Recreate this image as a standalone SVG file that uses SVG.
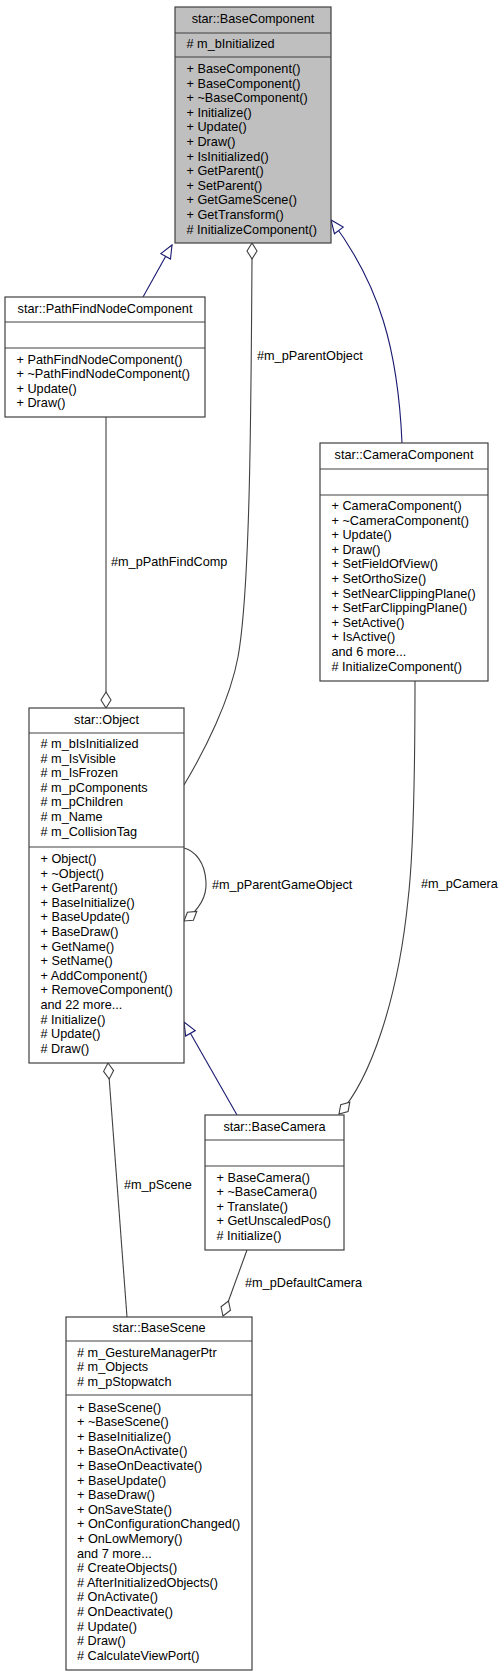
<svg xmlns="http://www.w3.org/2000/svg" width="504" height="1677" viewBox="0 0 504 1677">
<style>
text{font-family:"Liberation Sans",Arial,Helvetica,sans-serif;font-size:12.7px;fill:#000}
.ttl{text-anchor:middle}
.box{fill:#fff;stroke:#404040;stroke-width:1.2}
.main{fill:#bfbfbf;stroke:#404040;stroke-width:1.2}
.sep{stroke:#404040;stroke-width:1.2}
.inh{fill:none;stroke:#191970;stroke-width:1.1}
.agg{fill:none;stroke:#404040;stroke-width:1.1}
</style>
<defs>
<marker id="tri" markerUnits="userSpaceOnUse" orient="auto" refX="0" refY="0" markerWidth="30" markerHeight="30" overflow="visible">
<path d="M0,0 L-13,-5.5 L-13,5.5 Z" fill="#fff" stroke="#191970" stroke-width="1.1"/>
</marker>
<marker id="dia" markerUnits="userSpaceOnUse" orient="auto" refX="0" refY="0" markerWidth="30" markerHeight="30" overflow="visible">
<path d="M0,0 L8,-5 L16,0 L8,5 Z" fill="#fff" stroke="#404040" stroke-width="1.1"/>
</marker>
</defs>
<g id="connectors">
<path class="inh" d="M143,297 L172,245" marker-end="url(#tri)"/>
<path class="agg" d="M252,243 L252,259 C251,420 250,590 238,657 C230,700 205,750 184,785" marker-start="url(#dia)"/>
<path class="inh" d="M402,443 C398,350 380,285 331,220" marker-end="url(#tri)"/>
<path class="agg" d="M106,708 L106,417" marker-start="url(#dia)"/>
<path class="agg" d="M184,921 C200,909 207,897 206,882 C205,862 195,851 184,848" marker-start="url(#dia)"/>
<path class="agg" d="M339,1114 C370,1080 398,1000 408,900 C414,850 415,760 415,681" marker-start="url(#dia)"/>
<path class="inh" d="M237,1115 L184,1022" marker-end="url(#tri)"/>
<path class="agg" d="M223,1316 L247,1250" marker-start="url(#dia)"/>
<path class="agg" d="M108,1063 L127,1317" marker-start="url(#dia)"/>
<text x="257" y="360">#m_pParentObject</text>
<text x="111" y="566">#m_pPathFindComp</text>
<text x="212" y="889">#m_pParentGameObject</text>
<text x="421" y="888">#m_pCamera</text>
<text x="124" y="1189">#m_pScene</text>
<text x="245" y="1287">#m_pDefaultCamera</text>
</g>
<g id="BaseComponent">
<rect class="main" x="175" y="7" width="156" height="236"/>
<text class="ttl" x="253" y="22.5">star::BaseComponent</text>
<line class="sep" x1="175" y1="33" x2="331" y2="33"/>
<text x="186.5" y="47.5"># m_bInitialized</text>
<line class="sep" x1="175" y1="57" x2="331" y2="57"/>
<text x="186.5" y="73"><tspan x="186.5">+ BaseComponent()</tspan><tspan x="186.5" dy="14.6">+ BaseComponent()</tspan><tspan x="186.5" dy="14.6">+ ~BaseComponent()</tspan><tspan x="186.5" dy="14.6">+ Initialize()</tspan><tspan x="186.5" dy="14.6">+ Update()</tspan><tspan x="186.5" dy="14.6">+ Draw()</tspan><tspan x="186.5" dy="14.6">+ IsInitialized()</tspan><tspan x="186.5" dy="14.6">+ GetParent()</tspan><tspan x="186.5" dy="14.6">+ SetParent()</tspan><tspan x="186.5" dy="14.6">+ GetGameScene()</tspan><tspan x="186.5" dy="14.6">+ GetTransform()</tspan><tspan x="186.5" dy="14.6"># InitializeComponent()</tspan></text>
</g>
<g id="PathFindNodeComponent">
<rect class="box" x="5" y="297" width="200" height="120"/>
<text class="ttl" x="105" y="312.5">star::PathFindNodeComponent</text>
<line class="sep" x1="5" y1="322" x2="205" y2="322"/>
<line class="sep" x1="5" y1="348" x2="205" y2="348"/>
<text x="16.5" y="363.5"><tspan x="16.5">+ PathFindNodeComponent()</tspan><tspan x="16.5" dy="14.6">+ ~PathFindNodeComponent()</tspan><tspan x="16.5" dy="14.6">+ Update()</tspan><tspan x="16.5" dy="14.6">+ Draw()</tspan></text>
</g>
<g id="CameraComponent">
<rect class="box" x="320" y="443" width="168" height="238"/>
<text class="ttl" x="404" y="459">star::CameraComponent</text>
<line class="sep" x1="320" y1="469" x2="488" y2="469"/>
<line class="sep" x1="320" y1="495" x2="488" y2="495"/>
<text x="331.5" y="510"><tspan x="331.5">+ CameraComponent()</tspan><tspan x="331.5" dy="14.6">+ ~CameraComponent()</tspan><tspan x="331.5" dy="14.6">+ Update()</tspan><tspan x="331.5" dy="14.6">+ Draw()</tspan><tspan x="331.5" dy="14.6">+ SetFieldOfView()</tspan><tspan x="331.5" dy="14.6">+ SetOrthoSize()</tspan><tspan x="331.5" dy="14.6">+ SetNearClippingPlane()</tspan><tspan x="331.5" dy="14.6">+ SetFarClippingPlane()</tspan><tspan x="331.5" dy="14.6">+ SetActive()</tspan><tspan x="331.5" dy="14.6">+ IsActive()</tspan><tspan x="331.5" dy="14.6">and 6 more...</tspan><tspan x="331.5" dy="14.6"># InitializeComponent()</tspan></text>
</g>
<g id="Object">
<rect class="box" x="29" y="708" width="155" height="355"/>
<text class="ttl" x="106.5" y="723.5">star::Object</text>
<line class="sep" x1="29" y1="733" x2="184" y2="733"/>
<text x="40.5" y="748"><tspan x="40.5"># m_bIsInitialized</tspan><tspan x="40.5" dy="14.6"># m_IsVisible</tspan><tspan x="40.5" dy="14.6"># m_IsFrozen</tspan><tspan x="40.5" dy="14.6"># m_pComponents</tspan><tspan x="40.5" dy="14.6"># m_pChildren</tspan><tspan x="40.5" dy="14.6"># m_Name</tspan><tspan x="40.5" dy="14.6"># m_CollisionTag</tspan></text>
<line class="sep" x1="29" y1="847" x2="184" y2="847"/>
<text x="40.5" y="863"><tspan x="40.5">+ Object()</tspan><tspan x="40.5" dy="14.6">+ ~Object()</tspan><tspan x="40.5" dy="14.6">+ GetParent()</tspan><tspan x="40.5" dy="14.6">+ BaseInitialize()</tspan><tspan x="40.5" dy="14.6">+ BaseUpdate()</tspan><tspan x="40.5" dy="14.6">+ BaseDraw()</tspan><tspan x="40.5" dy="14.6">+ GetName()</tspan><tspan x="40.5" dy="14.6">+ SetName()</tspan><tspan x="40.5" dy="14.6">+ AddComponent()</tspan><tspan x="40.5" dy="14.6">+ RemoveComponent()</tspan><tspan x="40.5" dy="14.6">and 22 more...</tspan><tspan x="40.5" dy="14.6"># Initialize()</tspan><tspan x="40.5" dy="14.6"># Update()</tspan><tspan x="40.5" dy="14.6"># Draw()</tspan></text>
</g>
<g id="BaseCamera">
<rect class="box" x="205" y="1115" width="139" height="135"/>
<text class="ttl" x="274.5" y="1130.5">star::BaseCamera</text>
<line class="sep" x1="205" y1="1140" x2="344" y2="1140"/>
<line class="sep" x1="205" y1="1166" x2="344" y2="1166"/>
<text x="216.5" y="1181.5"><tspan x="216.5">+ BaseCamera()</tspan><tspan x="216.5" dy="14.6">+ ~BaseCamera()</tspan><tspan x="216.5" dy="14.6">+ Translate()</tspan><tspan x="216.5" dy="14.6">+ GetUnscaledPos()</tspan><tspan x="216.5" dy="14.6"># Initialize()</tspan></text>
</g>
<g id="BaseScene">
<rect class="box" x="66" y="1317" width="186" height="353"/>
<text class="ttl" x="159" y="1332">star::BaseScene</text>
<line class="sep" x1="66" y1="1341" x2="252" y2="1341"/>
<text x="77" y="1356.5"><tspan x="77"># m_GestureManagerPtr</tspan><tspan x="77" dy="14.6"># m_Objects</tspan><tspan x="77" dy="14.6"># m_pStopwatch</tspan></text>
<line class="sep" x1="66" y1="1395" x2="252" y2="1395"/>
<text x="77" y="1411.5"><tspan x="77">+ BaseScene()</tspan><tspan x="77" dy="14.6">+ ~BaseScene()</tspan><tspan x="77" dy="14.6">+ BaseInitialize()</tspan><tspan x="77" dy="14.6">+ BaseOnActivate()</tspan><tspan x="77" dy="14.6">+ BaseOnDeactivate()</tspan><tspan x="77" dy="14.6">+ BaseUpdate()</tspan><tspan x="77" dy="14.6">+ BaseDraw()</tspan><tspan x="77" dy="14.6">+ OnSaveState()</tspan><tspan x="77" dy="14.6">+ OnConfigurationChanged()</tspan><tspan x="77" dy="14.6">+ OnLowMemory()</tspan><tspan x="77" dy="14.6">and 7 more...</tspan><tspan x="77" dy="14.6"># CreateObjects()</tspan><tspan x="77" dy="14.6"># AfterInitializedObjects()</tspan><tspan x="77" dy="14.6"># OnActivate()</tspan><tspan x="77" dy="14.6"># OnDeactivate()</tspan><tspan x="77" dy="14.6"># Update()</tspan><tspan x="77" dy="14.6"># Draw()</tspan><tspan x="77" dy="14.6"># CalculateViewPort()</tspan></text>
</g>
</svg>
